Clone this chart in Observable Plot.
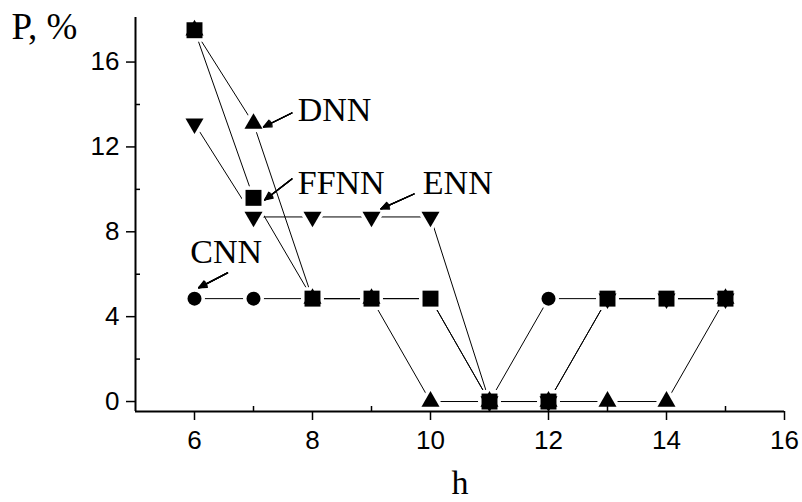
<!DOCTYPE html>
<html><head><meta charset="utf-8">
<script src="https://cdn.jsdelivr.net/npm/d3@7"></script>
<script src="https://cdn.jsdelivr.net/npm/@observablehq/plot@0.6"></script>
<style>html,body{margin:0;padding:0;background:#fff}#chart svg{display:block}</style>
</head><body><div id="chart"></div>
<script>
// ---- data ----
const hValues = [6, 7, 8, 9, 10, 11, 12, 13, 14, 15];
const cnnP  = [4.85, 4.85, 4.85, 4.85, 4.85, 0, 4.85, 4.85, 4.85, 4.85];
const dnnP  = [17.5, 13.1, 4.85, 4.85, 0, 0, 0, 0, 0, 4.85];
const ennP  = [13.1, 8.7, 8.7, 8.7, 8.7, 0, 0, 4.85, 4.85, 4.85];
const ffnnP = [17.5, 9.6, 4.85, 4.85, 4.85, 0, 0, 4.85, 4.85, 4.85];
const seriesNames = ["CNN", "DNN", "ENN", "FFNN"];

const xMajorTicks = [6, 8, 10, 12, 14, 16];
const xMinorTicks = [7, 9, 11, 13, 15];
const yMajorTicks = [0, 4, 8, 12, 16];
const yMinorTicks = [2, 6, 10, 14];
const xDomain = [5, 16];
const yDomain = [-0.47, 18.1];

// annotations (data coordinates)
const labelText = ["DNN", "FFNN", "ENN", "CNN"];
const labelX = [7.75, 7.75, 9.87, 5.93];
const labelY = [13.72, 10.28, 10.28, 7.03];
const arrowX1 = [7.65, 7.65, 9.72, 6.56];
const arrowY1 = [13.6, 10.49, 9.78, 6.06];
const arrowX2 = [7.17, 7.19, 9.16, 6.07];
const arrowY2 = [12.94, 9.5, 9.08, 5.36];

// ---- build ----
const seriesValues = {CNN: cnnP, DNN: dnnP, ENN: ennP, FFNN: ffnnP};
const rows = seriesNames.flatMap(s => hValues.map((h, i) => ({series: s, h, P: seriesValues[s][i]})));
const bySeries = s => rows.filter(d => d.series === s);

const triangleDown = {
  draw(context, size) {
    const y = Math.sqrt(size / (Math.sqrt(3) * 3));
    context.moveTo(0, y * 2);
    context.lineTo(-Math.sqrt(3) * y, -y);
    context.lineTo(Math.sqrt(3) * y, -y);
    context.closePath();
  }
};
const symbolOf = {CNN: "circle", DNN: "triangle", ENN: triangleDown, FFNN: "square"};
const radiusOf = {CNN: 7, DNN: 6.7, ENN: 6.7, FFNN: 9};

const serif = "Liberation Serif, Times New Roman, serif";
const sans = "Liberation Sans, Arial, sans-serif";

const marks = [];
// lines
for (const s of seriesNames) {
  marks.push(Plot.line(bySeries(s), {x: "h", y: "P", stroke: "black", strokeWidth: 1}));
}
// white halos (gaps at line ends)
for (const s of seriesNames) {
  marks.push(Plot.dot(bySeries(s), {x: "h", y: "P", symbol: symbolOf[s], r: radiusOf[s], fill: "white", stroke: "white", strokeWidth: 7}));
}
// markers
for (const s of seriesNames) {
  marks.push(Plot.dot(bySeries(s), {x: "h", y: "P", symbol: symbolOf[s], r: radiusOf[s], fill: "black", stroke: "none"}));
}
// axes
marks.push(
  Plot.axisX(xMajorTicks, {anchor: "bottom", tickSize: 9, tickPadding: 10, fontSize: 26, fontFamily: sans, strokeWidth: 1.5, label: null}),
  Plot.axisX(xMinorTicks, {anchor: "bottom", tickSize: 5, dy: -5, text: null, strokeWidth: 1.5, label: null}),
  Plot.axisY(yMajorTicks, {anchor: "left", tickSize: 9, tickPadding: 7, fontSize: 26, fontFamily: sans, strokeWidth: 1.5, label: null}),
  Plot.axisY(yMinorTicks, {anchor: "left", tickSize: 5, dx: 5, text: null, strokeWidth: 1.5, label: null}),
  Plot.ruleX([xDomain[0]], {stroke: "black", strokeWidth: 2}),
  Plot.ruleY([yDomain[0]], {stroke: "black", strokeWidth: 2})
);
// annotations: arrows drawn with several head angles so the heads look filled
for (const angle of [50, 38, 26, 14]) {
  marks.push(Plot.arrow(labelText, {
    x1: (d, i) => arrowX1[i], y1: (d, i) => arrowY1[i],
    x2: (d, i) => arrowX2[i], y2: (d, i) => arrowY2[i],
    stroke: "black", strokeWidth: 1.3, headLength: 10, headAngle: angle
  }));
}
marks.push(
  Plot.text(labelText, {x: (d, i) => labelX[i], y: (d, i) => labelY[i], text: d => d, textAnchor: "start", lineAnchor: "middle", fontFamily: serif, fontSize: 34, fill: "black"}),
  Plot.text(["P, %"], {frameAnchor: "top-left", text: d => d, dx: -124, dy: 10, textAnchor: "start", lineAnchor: "middle", fontFamily: serif, fontSize: 37, letterSpacing: 1, fill: "black"}),
  Plot.text(["h"], {frameAnchor: "bottom", text: d => d, dy: 72, lineAnchor: "middle", fontFamily: serif, fontSize: 34, fill: "black"})
);

const chart = Plot.plot({
  width: 802,
  height: 502,
  marginLeft: 135,
  marginRight: 18,
  marginTop: 17,
  marginBottom: 91,
  x: {domain: xDomain},
  y: {domain: yDomain},
  style: {background: "white", color: "black", overflow: "visible"},
  marks
});
document.getElementById("chart").appendChild(chart);
</script>
</body></html>
